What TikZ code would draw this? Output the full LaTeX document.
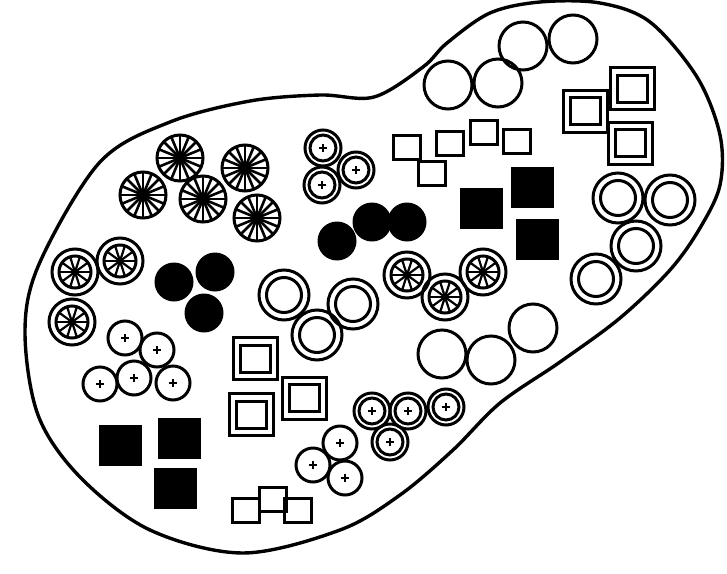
\documentclass[tikz,border=0pt]{standalone}
\begin{document}
\begin{tikzpicture}[x=0.5pt,y=-0.5pt,
  outline/.style={line width=1.7pt},
  ring/.style={line width=1.5pt},
  spoke/.style={line width=1.1pt}]
\useasboundingbox (0,0) rectangle (727,573);
% the bed
\draw[outline] plot[smooth cycle, tension=0.55] coordinates {
(25,330) (40,262) (100,162) (170,122) (250,101) (320,95) (374,97)
(423,67) (447,43) (490,13) (540,2) (600,3) (650,22) (697,77)
(720,135) (720,185) (700,228) (670,270) (620,318) (560,362)
(500,403) (453,450) (400,495) (340,530) (243,553) (150,530)
(80,477) (38,415)
};
% big wheels
\foreach \x/\y in {180/158,245/168,143/195,203/199,257/218} {
  \draw[ring] (\x,\y) circle[radius=23];
  \foreach \a in {0,22.5,...,337.5}
    \draw[spoke, line width=1.3pt] (\x,\y) -- ++(\a:23);
  \fill (\x,\y) circle[radius=4];
}
% small wheels in a ring
\foreach \x/\y in {75/272,120/261,72/322,407/275,445/297,483/272} {
  \draw[ring] (\x,\y) circle[radius=23] (\x,\y) circle[radius=16];
  \foreach \a in {0,36,...,324}
    \draw[spoke] (\x,\y) -- ++(\a:16);
  \fill (\x,\y) circle[radius=3];
}
% black discs
\foreach \x/\y in {174/282,215/272,204/313,337/241,372/222,407/222}
  \fill (\x,\y) circle[radius=19.5];
% plain circles
\foreach \x/\y in {448/85,498/83,523/46,573/39,442/354,491/360,533/328}
  \draw[ring] (\x,\y) circle[radius=24];
% double rings
\foreach \x/\y in {618/198,670/200,636/246,596/279,284/295,353/304,317/335}
  \draw[ring] (\x,\y) circle[radius=25] (\x,\y) circle[radius=17.5];
% circles with a cross
\foreach \x/\y in {125/338,157/350,100/384,134/378,173/383,340/443,313/465,345/478} {
  \draw[ring] (\x,\y) circle[radius=17];
  \draw[spoke] (\x-4,\y) -- (\x+4,\y) (\x,\y-4) -- (\x,\y+4);
}
% double circles with a cross
\foreach \x/\y in {323/148,356/170,322/185,372/411,408/411,446/407,390/442} {
  \draw[ring] (\x,\y) circle[radius=18] (\x,\y) circle[radius=13];
  \draw[spoke] (\x-4,\y) -- (\x+4,\y) (\x,\y-4) -- (\x,\y+4);
}
% double squares
\foreach \x/\y in {585.5/111,632.5/88.5,630.5/143,255/358.5,304.5/398,251.5/414.5} {
  \draw[ring] (\x-22,\y-21) rectangle (\x+22,\y+21);
  \draw[ring] (\x-15,\y-13.5) rectangle (\x+15,\y+13.5);
}
% small squares
\foreach \x/\y in {407/147,431.5/173,450/143,484/132,516.5/141,245.5/510,272.5/499,298/510}
  \draw[ring] (\x-13.5,\y-12) rectangle (\x+13.5,\y+12);
% black squares
\foreach \x/\y in {481.5/208.5,532/187,537/239.5,120.5/445,179.5/438,175.5/488}
  \fill (\x-21.5,\y-20.5) rectangle (\x+21.5,\y+20.5);
\end{tikzpicture}
\end{document}
